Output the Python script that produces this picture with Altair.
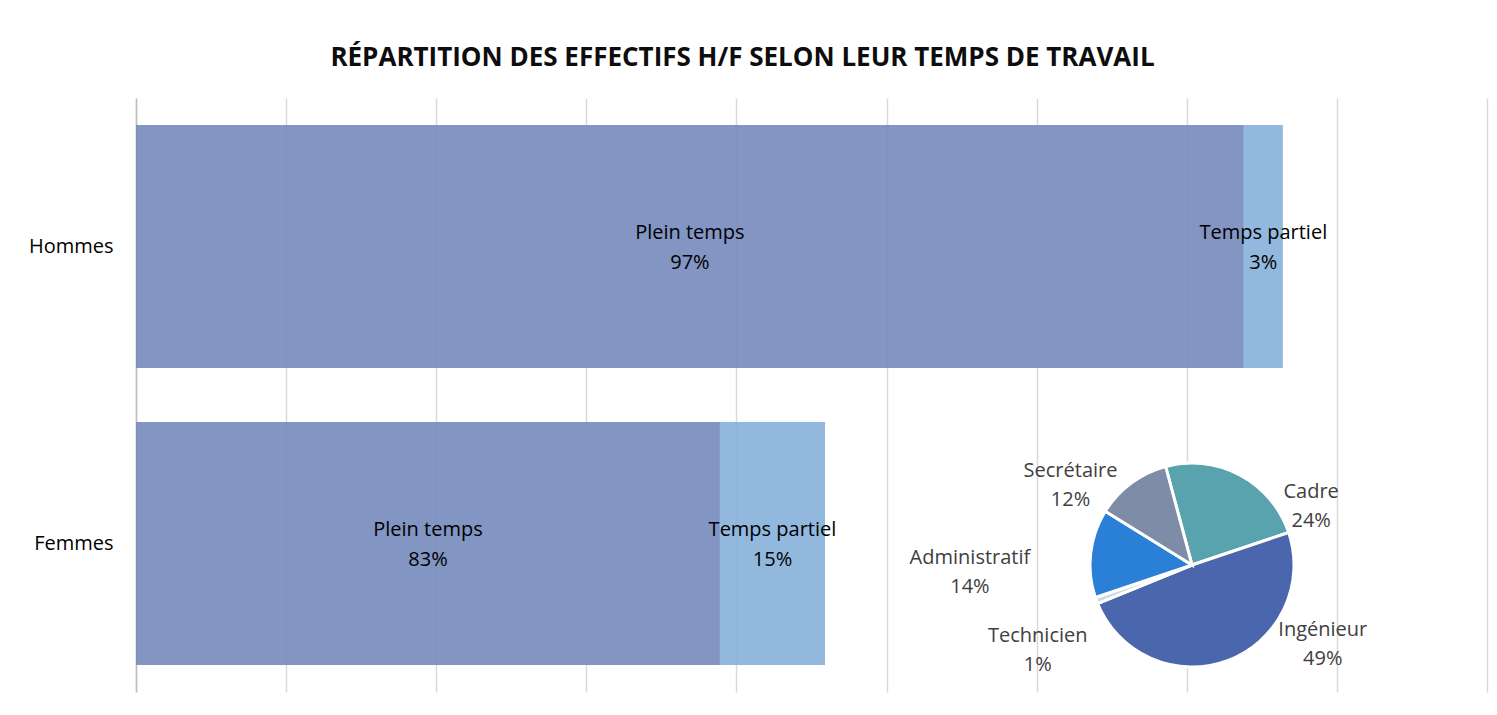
import math
import altair as alt
import pandas as pd

# ---- data ----
genres = ["Hommes", "Femmes"]
temps = ["Plein temps", "Temps partiel"]
hommes_vals = [73.8, 2.6]
femmes_vals = [38.9, 7.0]
hommes_pct = ["97%", "3%"]
femmes_pct = ["83%", "15%"]

metiers = ["Cadre", "Ingénieur", "Technicien", "Administratif", "Secrétaire"]
metiers_pct = [24, 49, 1, 14, 12]

bar_rows = []
for g, vals, pcts in [("Hommes", hommes_vals, hommes_pct), ("Femmes", femmes_vals, femmes_pct)]:
    for i, (t, v, p) in enumerate(zip(temps, vals, pcts)):
        bar_rows.append({"genre": g, "temps": t, "valeur": v, "pct": p, "ordre": i})
bars_df = pd.DataFrame(bar_rows)
pie_df = pd.DataFrame({"metier": metiers, "pct": metiers_pct, "ordre": list(range(len(metiers)))})

# ---- styles ----
FONT = "Open Sans"
color_scale = alt.Scale(
    domain=temps + metiers,
    range=["#7489BD", "#86B0DA", "#58A3AE", "#4A66AC", "#C9DAEE", "#2A7FD6", "#7E8CA8"],
)
x_scale = alt.Scale(domain=[0, 90], nice=False)
theta_scale = alt.Scale(domain=[0, 100], range=[math.radians(-15), math.radians(345)])
PIE_X, PIE_Y, PIE_R = 1056, 467, 102
LABEL_R = 140
nudges = {
    "Cadre": (53, 50),
    "Ingénieur": (82, -66),
    "Technicien": (-23, 22),
    "Administratif": (-83, 9),
    "Secrétaire": (-38, 18),
}

# ---- bars ----
base = alt.Chart(bars_df).transform_stack(
    stack="valeur", groupby=["genre"], as_=["x0", "x1"],
    sort=[alt.SortField(field="ordre", order="ascending")],
).transform_calculate(
    mid="(datum.x0 + datum.x1) / 2",
    label="datum.temps + '\\n' + datum.pct",
)

y_enc = alt.Y(
    "genre:N", sort=genres,
    scale=alt.Scale(paddingInner=0.182, paddingOuter=0.091),
    axis=alt.Axis(title=None, labelFontSize=20, labelColor="#000000", labelFont=FONT,
                  labelPadding=23, ticks=False, domainColor="#bfbfbf", domainWidth=1.5),
)

bar = base.mark_bar(opacity=0.9).encode(
    x=alt.X("x0:Q", scale=x_scale,
            axis=alt.Axis(title=None, labels=False, ticks=False, domain=False,
                          grid=True, gridColor="#d9d9d9", gridWidth=1.5,
                          values=list(range(0, 91, 10)))),
    x2="x1:Q",
    y=y_enc,
    color=alt.Color("temps:N", scale=color_scale, legend=None),
)

bar_text = base.mark_text(
    fontSize=20, font=FONT, lineBreak="\n", lineHeight=30, color="#000000",
    baseline="middle", dy=-14,
).encode(
    x=alt.X("mid:Q", scale=x_scale),
    y=alt.Y("genre:N", sort=genres),
    text="label:N",
)

# ---- pie ----
pie_base = alt.Chart(pie_df).transform_stack(
    stack="pct", groupby=[], as_=["t0", "t1"],
    sort=[alt.SortField(field="ordre", order="ascending")],
).transform_calculate(
    tm="(datum.t0 + datum.t1) / 2",
    label="datum.metier + '\\n' + datum.pct + '%'",
)

arc = pie_base.mark_arc(radius=PIE_R, stroke="white", strokeWidth=3).encode(
    theta=alt.Theta("t0:Q", scale=theta_scale, stack=False),
    theta2="t1:Q",
    color=alt.Color("metier:N", scale=color_scale, legend=None),
    x=alt.value(PIE_X),
    y=alt.value(PIE_Y),
)

label_layers = []
for m in metiers:
    dx, dy = nudges[m]
    label_layers.append(
        pie_base.transform_filter(alt.datum.metier == m).mark_text(
            radius=LABEL_R, dx=dx, dy=dy, fontSize=20, font=FONT, lineBreak="\n",
            lineHeight=29, color="#404040", baseline="middle",
        ).encode(
            theta=alt.Theta("tm:Q", scale=theta_scale, stack=False),
            text="label:N",
            x=alt.value(PIE_X),
            y=alt.value(PIE_Y),
        )
    )

chart = alt.layer(bar, bar_text, arc, *label_layers).properties(
    width=1351,
    height=594,
    title=alt.TitleParams(
        "RÉPARTITION DES EFFECTIFS H/F SELON LEUR TEMPS DE TRAVAIL",
        fontSize=26, font=FONT, fontWeight="bold", color="#0d0d0d",
        anchor="middle", dx=-69, offset=27,
    ),
    autosize=alt.AutoSizeParams(type="none"),
    padding={"left": 128, "top": 90, "right": 2, "bottom": 15},
).configure_view(stroke=None)

chart.save("out.html", embed_options={"renderer": "svg", "actions": False})
